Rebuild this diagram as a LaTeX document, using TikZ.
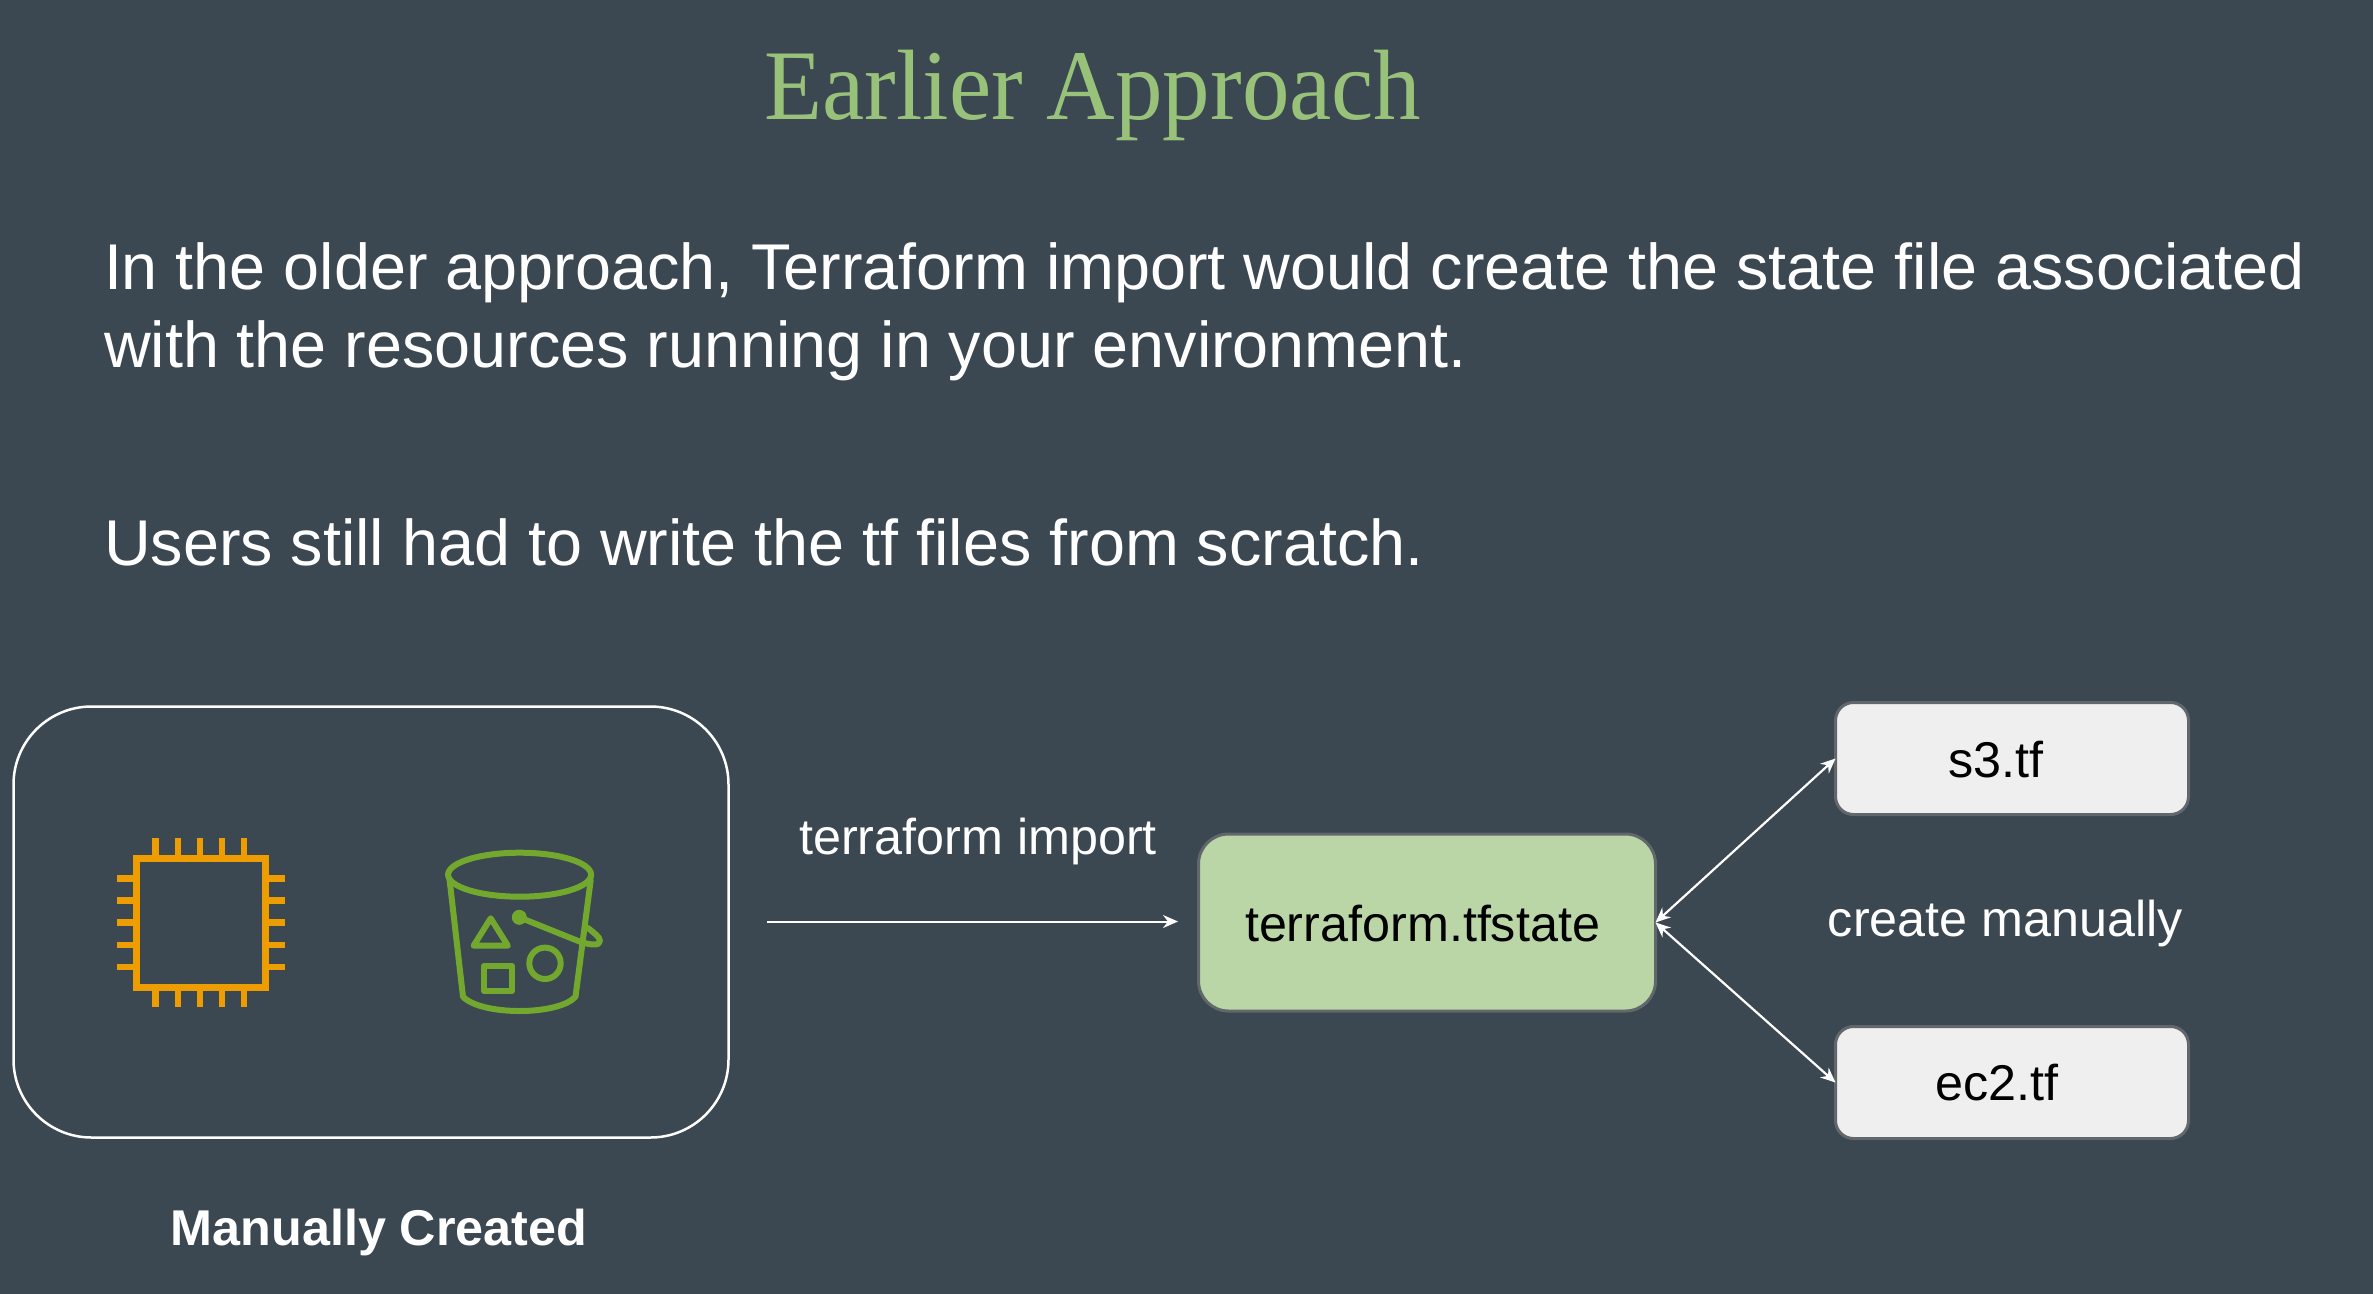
\documentclass[tikz,border=0pt]{standalone}
\usepackage{fontspec}
\setmainfont{Liberation Sans}
\newfontfamily\titlefont{Liberation Serif}
\usetikzlibrary{arrows.meta}
\definecolor{bgcol}{HTML}{3B4751}
\definecolor{titlecol}{HTML}{98C17A}
\definecolor{statecol}{HTML}{BBD6A6}
\definecolor{filecol}{HTML}{EFEFEF}
\definecolor{edgecol}{HTML}{62676B}
\definecolor{chipcol}{HTML}{EE9D00}
\definecolor{bucketcol}{HTML}{73A82E}
\tikzset{
  bodytext/.style={text=white,inner sep=0pt,outer sep=0pt,font=\fontsize{64.7}{78}\selectfont,align=left},
  labeltext/.style={text=white,inner sep=0pt,outer sep=0pt,anchor=base,font=\fontsize{50.3}{60}\selectfont},
  boxtext/.style={text=black,inner sep=0pt,outer sep=0pt,anchor=base,font=\fontsize{50.3}{60}\selectfont},
  groupbox/.style={draw=white,line width=2.5pt,rounded corners=78pt,inner sep=0pt,outer sep=0pt},
  statebox/.style={draw=edgecol,fill=statecol,line width=3pt,rounded corners=30pt,inner sep=0pt,outer sep=0pt},
  filebox/.style={draw=edgecol,fill=filecol,line width=3pt,rounded corners=18pt,inner sep=0pt,outer sep=0pt},
  link/.style={draw=white,line width=2.2pt,{Stealth[length=15pt,width=13pt,inset=5pt]}-{Stealth[length=15pt,width=13pt,inset=5pt]}},
  flow/.style={draw=white,line width=2pt,-{Stealth[length=15pt,width=13pt,inset=5pt]}},
  chipline/.style={draw=chipcol,line width=7pt},
  pinline/.style={draw=chipcol,line width=6.5pt},
  bucketline/.style={draw=bucketcol,line width=6pt,line join=round,line cap=round},
}
\begin{document}
\begin{tikzpicture}[x=1pt,y=-1pt]
\useasboundingbox (0,0) rectangle (2373,1293);
\fill[bgcol] (-3,-3) rectangle (2376,1296);

\node[anchor=base,text=titlecol,inner sep=0pt,font=\titlefont\fontsize{100}{110}\selectfont] (title) at (1093,119.5) {\scalebox{0.95}[1]{Earlier Approach}};

\node[bodytext,anchor=base west] (p1a) at (104,289.5) {In the older approach, Terraform import would create the state file associated};
\node[bodytext,anchor=base west] (p1b) at (104,367) {with the resources running in your environment.};
\node[bodytext,anchor=base west] (p2) at (104,565) {Users still had to write the tf files from scratch.};

% group box
\node[groupbox,minimum width=715pt,minimum height=431pt] (group) at (371,922) {};
\node[labeltext,font=\bfseries\fontsize{50.3}{60}\selectfont] (mc) at (379,1245) {Manually Created};

% chip icon
\draw[chipline] (136.5,858.5) rectangle (265.5,987.5);
\foreach \px in {155.7,177.9,200,222,244}{
  \draw[pinline] (\px,838) -- (\px,855);
  \draw[pinline] (\px,990) -- (\px,1007);
}
\foreach \py in {878.7,900.7,922.7,945,967}{
  \draw[pinline] (117,\py) -- (133,\py);
  \draw[pinline] (269,\py) -- (285,\py);
}

% bucket icon
\draw[bucketline] (519.6,874.7) ellipse [x radius=71.5pt,y radius=22pt];
\draw[bucketline] (449.6,880) -- (463,996.7) .. controls (472,1006) and (495,1011) .. (519.6,1011) .. controls (544,1011) and (567,1006) .. (575.5,996.7) -- (590.7,880);
\fill[bucketcol] (519.3,917.3) circle (7.5pt);
\draw[bucketline] (519.3,917.3) -- (580,941.7) .. controls (590,945) and (600,946) .. (600,941) .. controls (600,937) and (594,933) .. (588,928);
\draw[bucketline] (490.7,918.3) -- (473.6,945.7) -- (507.9,945.7) -- cycle;
\draw[bucketline] (545,963.3) circle (15.7pt);
\draw[bucketline] (483.6,966) rectangle (512.4,991);

% diagram
\node[statebox,minimum width=457pt,minimum height=177pt] (state) at (1427,922.5) {};
\node[boxtext] (statelabel) at (1422.5,941.5) {terraform.tfstate};
\node[filebox,minimum width=353pt,minimum height=112pt] (s3) at (2012,758.5) {};
\node[boxtext] (s3label) at (1996,777) {s3.tf};
\node[filebox,minimum width=353pt,minimum height=112pt] (ec2) at (2012,1082.5) {};
\node[boxtext] (ec2label) at (1997,1100.7) {ec2.tf};

\node[labeltext] (importlabel) at (978,854.5) {terraform import};
\node[labeltext] (createlabel) at (2005.5,936.5) {create manually};

\coordinate (importstart) at (767,921.5);
\coordinate (importend) at (1178,921.5);
\draw[flow] (importstart) -- (importend);
\draw[link] (s3.west) -- (state.east);
\draw[link] (state.east) -- (ec2.west);
\end{tikzpicture}
\end{document}
